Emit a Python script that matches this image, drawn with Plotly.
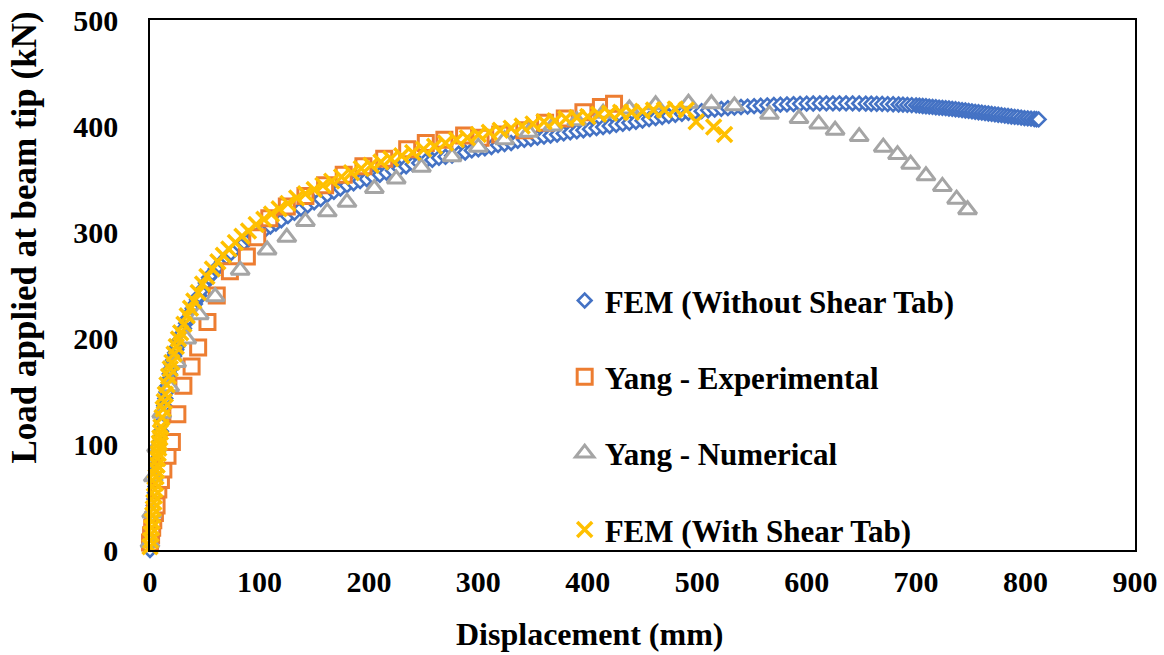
import plotly.graph_objects as go

# ---------------- data ----------------
fem_no_tab_disp = [
    0, 0.5, 1, 1.5, 2, 2.5, 3, 3.5, 4, 4.5, 5, 5.5, 6, 6.5, 7, 7.5, 8, 8.5, 9, 9.5, 10,
    11, 12, 13, 14, 15, 16, 17, 18, 19, 20, 21, 22, 23, 24, 25,
    27, 29, 31, 33, 35, 37, 39, 41, 43, 45,
    48, 51, 54, 57, 60, 63, 66,
    70, 74, 78, 82, 86, 90,
    95, 100, 105, 110, 115, 120,
    126, 132, 138, 144, 150, 156, 162, 168, 174, 180,
    186, 192, 198, 204, 210, 216, 222, 228, 234, 240,
    246, 252, 258, 264, 270, 276, 282, 288, 294, 300,
    306, 312, 318, 324, 330, 336, 342, 348, 354, 360,
    366, 372, 378, 384, 390, 396, 402, 408, 414, 420,
    426, 432, 438, 444, 450, 456, 462, 468, 474, 480,
    486, 492, 498, 504, 510, 516, 522, 528, 534, 540,
    546, 552, 558, 564, 570, 576, 582, 588, 594, 600,
    606, 612, 618, 624, 630, 636, 642, 648, 654,
    659, 664, 669, 674, 679, 684,
    688, 692, 696, 700,
    703, 706, 709, 712, 715, 718, 721, 724, 727, 730,
    733, 736, 739, 742, 745, 748, 751, 754, 757, 760,
    763, 766, 769, 772, 775, 778, 781, 784, 787, 790,
    793, 796, 799, 802, 805, 808,
    810, 812,
]
fem_no_tab_load = [
    0, 6, 12, 18, 24, 30, 36, 42, 48, 54, 60, 65, 71, 76, 82, 87, 92, 97, 102, 107, 112,
    121, 129, 136, 143, 149, 155, 161, 166, 171, 175, 179, 183, 186, 189, 192,
    198, 204, 209, 214, 219, 224, 228, 232, 236, 240,
    246, 252, 257, 261, 265, 268, 272,
    276, 280, 284, 287, 290, 293,
    296, 299, 302, 305, 308, 311,
    315, 318, 322, 325, 328, 331, 335, 338, 341, 344,
    346, 348, 350, 352, 354, 356, 358, 360, 362, 364,
    365, 367, 368, 370, 371, 372, 374, 375, 377, 378,
    379, 380, 382, 383, 384, 386, 387, 388, 389, 390,
    391, 392, 393, 394, 395, 396, 397, 398, 399, 400,
    401, 402, 403, 404, 405, 406.5, 407.5, 408.5, 409.5, 410.5,
    411.5, 412.5, 413.3, 414, 414.8, 415.5, 416.2, 416.8, 417.4, 417.9,
    418.3, 418.7, 419.1, 419.5, 419.8, 420.1, 420.4, 420.7, 420.9, 421.1,
    421.2, 421.3, 421.4, 421.4, 421.4, 421.4, 421.3, 421.2, 421.1,
    421, 420.9, 420.8, 420.7, 420.5, 420.3,
    420.1, 419.9, 419.7, 419.5,
    419.2, 418.9, 418.6, 418.3, 418, 417.7, 417.4, 417.1, 416.8, 416.5,
    416.2, 415.8, 415.4, 415, 414.6, 414.2, 413.8, 413.4, 413, 412.6,
    412.2, 411.8, 411.4, 411, 410.6, 410.2, 409.8, 409.4, 409, 408.6,
    408.3, 407.9, 407.5, 407.2, 406.9, 406.6,
    406.4, 406.2,
]

yang_exp_disp = [0, 1, 2, 3, 4.5, 6, 7.6, 10, 12.2, 16,
                 20, 25, 30.5, 38, 44, 52.5, 61, 73, 88.5, 98,
                 109, 125, 142, 160, 177, 195, 214, 235, 252, 269,
                 287, 302, 320, 342, 361, 379, 396, 412, 424]
yang_exp_load = [7, 14, 21, 28, 35, 42, 57, 66, 76, 89,
                 102, 128, 155, 173, 191, 215, 240, 263, 277, 295,
                 313, 324, 334, 344, 354, 362, 369, 378, 384, 387,
                 391, 389, 392, 396, 403, 407, 413, 418, 421]

yang_num_disp = [0, 1.5, 3, 6, 10.7, 18, 24.4, 33.6, 45, 59.5,
                 82.4, 107, 125, 142, 162, 180, 205, 225, 248, 276,
                 300, 324, 346, 368, 390, 414, 438, 462, 492, 513,
                 534, 566, 593, 611, 626, 648, 670, 683, 695, 709,
                 724, 737, 747]
yang_num_load = [7, 35, 69, 97, 129, 154, 177, 199, 222, 239,
                 264, 283, 295, 310, 319, 328, 341, 350, 361, 371,
                 380, 387, 394, 400, 405, 412, 416, 420, 421.5, 421,
                 419, 411, 407, 402, 396, 390, 380, 373, 364, 353,
                 343, 331, 321]

fem_tab_disp = [
    0, 0.5, 1, 1.5, 2, 2.5, 3, 3.5, 4, 4.5, 5, 5.5, 6, 6.5, 7, 7.5, 8, 8.5, 9, 9.5, 10,
    11, 12, 13, 14, 15.5, 17, 18.5, 20,
    22, 24, 26, 28, 31, 34, 37, 40, 44, 48,
    52, 57, 62, 67, 72, 78, 84, 90, 97, 104,
    111, 118, 126, 134, 142, 150, 158, 166, 175, 184,
    193, 202, 211, 220, 230, 240, 250, 260, 270, 280,
    290, 300, 310, 320, 330, 340, 350, 360, 370, 380,
    390, 400, 410, 420, 430, 440, 450, 460, 470, 480,
    490, 499, 515, 525,
]
fem_tab_load = [
    3, 9, 15, 21, 27, 33, 39, 45, 51, 57, 63, 69, 75, 80, 86, 91, 96, 101, 106, 111, 116,
    125, 133, 140, 147, 156, 164, 171, 177,
    185, 192, 199, 205, 213, 221, 228, 235, 243, 251,
    258, 265, 272, 278, 284, 290, 296, 301, 307, 312,
    317, 322, 327, 332, 336, 340, 344, 348, 352, 356,
    360, 363, 366, 369, 372, 375, 378, 381, 384, 387,
    389, 392, 394, 396, 398, 400, 402, 404, 405, 407,
    408, 409, 411, 412, 413, 413, 414, 415, 415, 416,
    415, 404, 399, 392,
]

assert len(fem_no_tab_disp) == len(fem_no_tab_load)
assert len(yang_exp_disp) == len(yang_exp_load)
assert len(yang_num_disp) == len(yang_num_load)
assert len(fem_tab_disp) == len(fem_tab_load)

x_ticks = [0, 100, 200, 300, 400, 500, 600, 700, 800, 900]
y_ticks = [0, 100, 200, 300, 400, 500]

series_names = ["FEM (Without Shear Tab)", "Yang - Experimental",
                "Yang - Numerical", "FEM (With Shear Tab)"]

# ---------------- styling ----------------
FONT = "Liberation Serif"
BLUE, ORANGE, GRAY, YELLOW = "#4472C4", "#ED7D31", "#A5A5A5", "#FFC000"

fig = go.Figure()
fig.add_trace(go.Scatter(
    x=fem_no_tab_disp, y=fem_no_tab_load, mode="markers", name=series_names[0],
    legendgroup="g1", cliponaxis=False,
    marker=dict(symbol="diamond", size=10.5, color="white", line=dict(color=BLUE, width=2.6))))
fig.add_trace(go.Scatter(
    x=yang_exp_disp, y=yang_exp_load, mode="markers", name=series_names[1],
    legendgroup="g2", cliponaxis=False,
    marker=dict(symbol="square", size=15, color="white", line=dict(color=ORANGE, width=3))))
fig.add_trace(go.Scatter(
    x=yang_num_disp, y=yang_num_load, mode="markers", name=series_names[2],
    legendgroup="g3", cliponaxis=False,
    marker=dict(symbol="triangle-up", size=16, color="white", line=dict(color=GRAY, width=3))))
fig.add_trace(go.Scatter(
    x=fem_tab_disp, y=fem_tab_load, mode="markers", name=series_names[3],
    legendgroup="g4", cliponaxis=False,
    marker=dict(symbol="x-thin", size=15, color=YELLOW, line=dict(color=YELLOW, width=3.5))))

fig.update_layout(
    width=1164, height=655,
    margin=dict(l=150, r=29, t=20, b=105, autoexpand=False),
    plot_bgcolor="white", paper_bgcolor="white",
    font=dict(family=FONT, size=30, color="black", weight="bold"),
    showlegend=True,
    legend=dict(x=0.421, y=0.521, xanchor="left", yanchor="top",
                bgcolor="rgba(0,0,0,0)", tracegroupgap=33,
                font=dict(family=FONT, size=31, color="black", weight="bold")),
    annotations=[
        dict(text="Displacement (mm)", xref="paper", yref="paper",
             x=0.4457, y=-0.158, xanchor="center", yanchor="middle", showarrow=False,
             font=dict(family=FONT, size=32, color="black", weight="bold")),
        dict(text="Load applied at beam tip (kN)", xref="paper", yref="paper",
             x=-0.1279, y=0.5896, xanchor="center", yanchor="middle", showarrow=False,
             textangle=-90,
             font=dict(family=FONT, size=35, color="black", weight="bold")),
    ],
)
fig.update_xaxes(range=[0, 900], tickvals=x_ticks, ticktext=[str(v) for v in x_ticks],
                 showgrid=False, zeroline=False, showline=True, linecolor="black",
                 linewidth=1.5, mirror=True, ticks="", ticklabelstandoff=4,
                 automargin=False,
                 tickfont=dict(family=FONT, size=30, color="black", weight="bold"))
fig.update_yaxes(range=[0, 500], tickvals=y_ticks, ticktext=[str(v) for v in y_ticks],
                 showgrid=False, zeroline=False, showline=True, linecolor="black",
                 linewidth=1.5, mirror=True, ticks="", ticklabelstandoff=24,
                 automargin=False,
                 tickfont=dict(family=FONT, size=30, color="black", weight="bold"))

fig.write_html("out.html")
